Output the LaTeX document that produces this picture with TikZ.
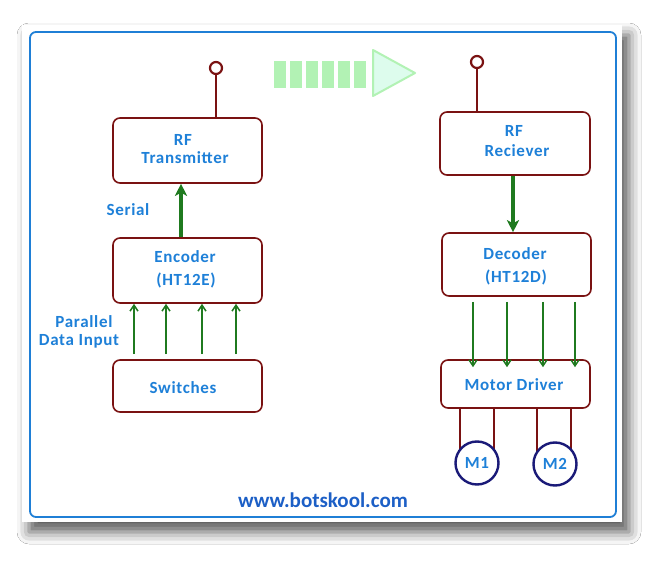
\documentclass[tikz,border=0pt]{standalone}
\usepackage{fontspec}
\setmainfont{Carlito}
\newfontfamily\lblfont[LetterSpace=4]{Carlito}
\usetikzlibrary{shadows.blur,arrows.meta}
\definecolor{boxred}{HTML}{7A1212}
\definecolor{txtblue}{HTML}{1E80D8}
\definecolor{webblue}{HTML}{1C5FC6}
\definecolor{frameblue}{HTML}{1F7FD6}
\definecolor{arrgreen}{HTML}{1F7A1F}
\definecolor{lgreen}{HTML}{B2F2B4}
\definecolor{navy}{HTML}{1A1A78}
\tikzset{
  blk/.style={draw=boxred, line width=1.6pt, rounded corners=7pt, fill=white},
  lbl/.style={text=txtblue, font=\lblfont\bfseries\fontsize{17}{19}\selectfont, align=center, inner sep=0pt},
  thick arr/.style={draw=arrgreen, line width=3.4pt, -{Stealth[length=12pt,width=12pt,inset=3pt]}},
  thin arr/.style={draw=arrgreen, line width=1.5pt, -{Straight Barb[length=6pt,width=8pt]}},
  wire/.style={draw=boxred, line width=2.2pt},
  motor/.style={draw=navy, line width=2.4pt, circle, minimum size=43pt, inner sep=0pt, fill=white, text=txtblue, font=\lblfont\bfseries\fontsize{17}{19}\selectfont},
}
\begin{document}
\begin{tikzpicture}[x=1pt,y=-1pt]
\useasboundingbox (0,0) rectangle (662,564);
\fill[white] (0,0) rectangle (662,564);
% panel with shadow
\path[fill=white, blur shadow={shadow xshift=7pt, shadow yshift=-10pt, shadow blur radius=12pt, shadow opacity=65}] (22,25) rectangle (622,522);
\draw[frameblue, line width=1.8pt, rounded corners=6pt] (30,32) rectangle (616,517);

% radio waves arrow
\foreach \i in {0,...,5} {
  \fill[lgreen] (274+\i*16,61) rectangle (286+\i*16,88);
}
\fill[lgreen!80!cyan!30] (373,50) -- (415,73) -- (373,96) -- cycle;
\draw[lgreen, line width=2pt, line join=round] (373,50) -- (415,73) -- (373,96) -- cycle;

% left side
\node[blk, minimum width=149pt, minimum height=65pt] (tx) at (187.5,150.5) {};
\node[blk, minimum width=149pt, minimum height=65pt] (enc) at (187.5,270.5) {};
\node[blk, minimum width=149pt, minimum height=52pt] (sw) at (187.5,386) {};
\node[lbl] (txl1) at (183,140) {RF};
\node[lbl] (txl2) at (185,158) {Transmitter};
\node[lbl] (encl1) at (185,257) {Encoder};
\node[lbl] (encl2) at (186,280) {(HT12E)};
\node[lbl] (swl) at (183,388) {Switches};
\node[lbl] (serial) at (128,210) {Serial};
\node[lbl] (par1) at (84,322) {Parallel};
\node[lbl] (par2) at (79,341) {Data Input};

% antenna left
\coordinate (atl) at (216,75);
\draw[wire] (atl) -- (tx.north -| atl);
\node[draw=boxred, line width=2.2pt, circle, minimum size=12pt, inner sep=0pt, fill=white] (antl) at (216,68) {};

% serial arrow
\draw[thick arr] (enc.north -| 181,0) -- (tx.south -| 181,0);
% parallel arrows
\foreach \x in {134,166,202,236} {
  \draw[thin arr] (sw.north -| \x,0) ++(0,-5) -- (enc.south -| \x,0);
}

% right side
\node[blk, minimum width=150pt, minimum height=63pt] (rx) at (515,143.5) {};
\node[blk, minimum width=149pt, minimum height=63pt] (dec) at (516.5,264.5) {};
\node[blk, minimum width=149pt, minimum height=48pt] (md) at (515.5,384) {};
\node[lbl] (rxl1) at (514,131) {RF};
\node[lbl] (rxl2) at (517,151) {Reciever};
\node[lbl] (decl1) at (515,254) {Decoder};
\node[lbl] (decl2) at (516,277) {(HT12D)};
\node[lbl] (mdl) at (514,385) {Motor Driver};

% antenna right
\coordinate (atr) at (477,69);
\draw[wire] (atr) -- (rx.north -| atr);
\node[draw=boxred, line width=2.2pt, circle, minimum size=12pt, inner sep=0pt, fill=white] (antr) at (477,62) {};

% receiver to decoder
\draw[thick arr] (rx.south -| 513,0) -- (dec.north -| 513,0);
% decoder outputs
\foreach \x in {473,507,543,575} {
  \draw[thin arr] (dec.south -| \x,0) ++(0,5) -- ([yshift=-8pt]md.north -| \x,0);
}

% motors
\draw[wire] (md.south -| 460,0) -- (460,456);
\draw[wire] (md.south -| 494,0) -- (494,456);
\draw[wire] (md.south -| 537,0) -- (537,456);
\draw[wire] (md.south -| 571,0) -- (571,456);
\node[motor] (m1) at (477,463) {M1};
\node[motor] (m2) at (555,464) {M2};

\node[text=webblue, font=\bfseries\fontsize{21}{23}\selectfont, inner sep=0pt] (web) at (323,500) {www.botskool.com};
\end{tikzpicture}
\end{document}
